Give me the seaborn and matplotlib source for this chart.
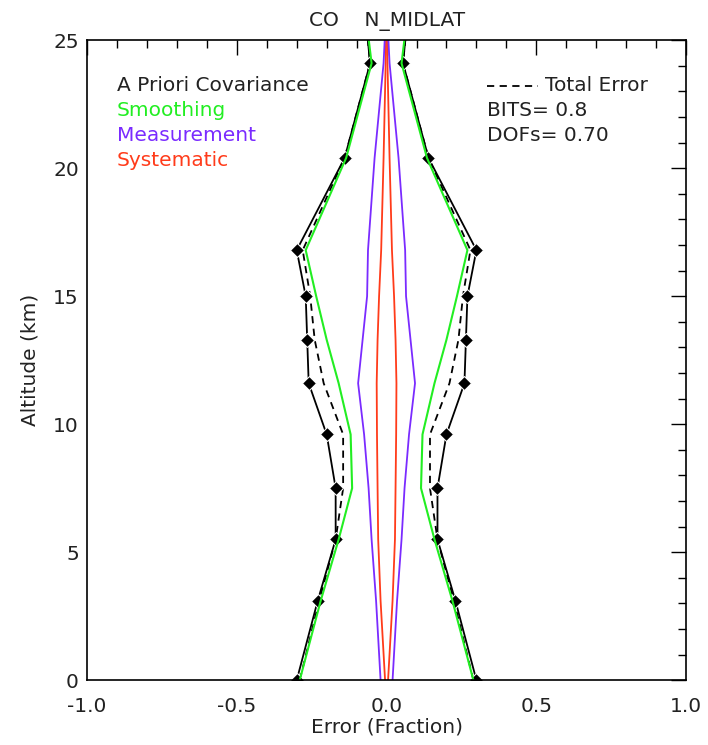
import numpy as np
import pandas as pd
import matplotlib
matplotlib.use('Agg')
import matplotlib.pyplot as plt
from matplotlib.ticker import MultipleLocator
import seaborn as sns

sns.set_theme(style='white')
plt.rcParams['font.family'] = ['DejaVu Sans']

# 高度层 (km)，最后一层超出坐标轴范围，会被裁剪
altitude = [0.0, 3.1, 5.5, 7.5, 9.6, 11.6, 13.3, 15.0, 16.8, 20.4, 24.1, 26.5]

# 各误差分量（分数），左右对称画出
apriori = [0.30, 0.23, 0.17, 0.17, 0.20, 0.26, 0.265, 0.27, 0.30, 0.14, 0.055, 0.075]
smoothing = [0.29, 0.22, 0.16, 0.115, 0.12, 0.16, 0.20, 0.235, 0.27, 0.135, 0.05, 0.075]
measurement = [0.02, 0.035, 0.05, 0.06, 0.075, 0.095, 0.08, 0.065, 0.062, 0.04, 0.01, 0.0]
systematic = [0.005, 0.02, 0.028, 0.03, 0.032, 0.033, 0.03, 0.025, 0.018, 0.01, 0.003, 0.0]
total = [0.29, 0.225, 0.17, 0.145, 0.145, 0.21, 0.24, 0.255, 0.28, 0.14, 0.055, 0.075]

bits = 0.8
dofs = 0.70

c_green = '#22ee22'
c_blue = '#7a2bff'
c_red = '#ff3b1a'
c_text = '#222222'
fs = 14.5

fig = plt.figure(figsize=(7.08, 7.45), dpi=100)
ax = fig.add_axes([0.123, 0.087, 0.846, 0.859])

def draw(vals, color, **kw):
    for sign in (-1, 1):
        d = pd.DataFrame({'err': [sign * v for v in vals], 'alt': altitude})
        sns.lineplot(data=d, x='err', y='alt', sort=False, color=color, ax=ax,
                     estimator=None, **kw)

draw(systematic, c_red, linewidth=1.3)
draw(measurement, c_blue, linewidth=1.3)
draw(total, 'black', linewidth=1.3, linestyle=(0, (4, 3)))
draw(apriori, 'black', linewidth=1.3, marker='D', markersize=7)
draw(smoothing, c_green, linewidth=1.5)

ax.set_xlim(-1, 1)
ax.set_ylim(0, 25)
ax.xaxis.set_major_locator(MultipleLocator(0.5))
ax.xaxis.set_minor_locator(MultipleLocator(0.1))
ax.yaxis.set_major_locator(MultipleLocator(5))
ax.yaxis.set_minor_locator(MultipleLocator(1))
ax.xaxis.set_major_formatter(matplotlib.ticker.FormatStrFormatter('%.1f'))
ax.tick_params(which='both', direction='in', top=True, right=True, color='black',
               labelcolor=c_text, labelsize=fs, width=1)
ax.tick_params(which='major', length=11)
ax.tick_params(axis='x', which='major', pad=12)
ax.tick_params(axis='y', which='major', pad=6)
ax.tick_params(which='minor', length=6)
for s in ax.spines.values():
    s.set_color('black')
    s.set_linewidth(1.2)

ax.set_xlabel('Error (Fraction)', fontsize=fs, color=c_text, labelpad=1)
ax.set_ylabel('Altitude (km)', fontsize=fs, color=c_text, labelpad=10)
ax.set_title('CO    N_MIDLAT', fontsize=fs, color=c_text, pad=10)

# 图例文字
ax.text(0.05, 0.929, 'A Priori Covariance', transform=ax.transAxes, fontsize=fs, color=c_text, va='center')
ax.text(0.05, 0.890, 'Smoothing', transform=ax.transAxes, fontsize=fs, color=c_green, va='center')
ax.text(0.05, 0.851, 'Measurement', transform=ax.transAxes, fontsize=fs, color=c_blue, va='center')
ax.text(0.05, 0.812, 'Systematic', transform=ax.transAxes, fontsize=fs, color=c_red, va='center')

ax.plot([0.668, 0.752], [0.929, 0.929], transform=ax.transAxes, color='black',
        linewidth=1.3, linestyle=(0, (4, 3)))
ax.text(0.765, 0.929, 'Total Error', transform=ax.transAxes, fontsize=fs, color=c_text, va='center')
ax.text(0.668, 0.890, f'BITS= {bits:.1f}', transform=ax.transAxes, fontsize=fs, color=c_text, va='center')
ax.text(0.668, 0.851, f'DOFs= {dofs:.2f}', transform=ax.transAxes, fontsize=fs, color=c_text, va='center')

fig.savefig('out.png', dpi=100)
